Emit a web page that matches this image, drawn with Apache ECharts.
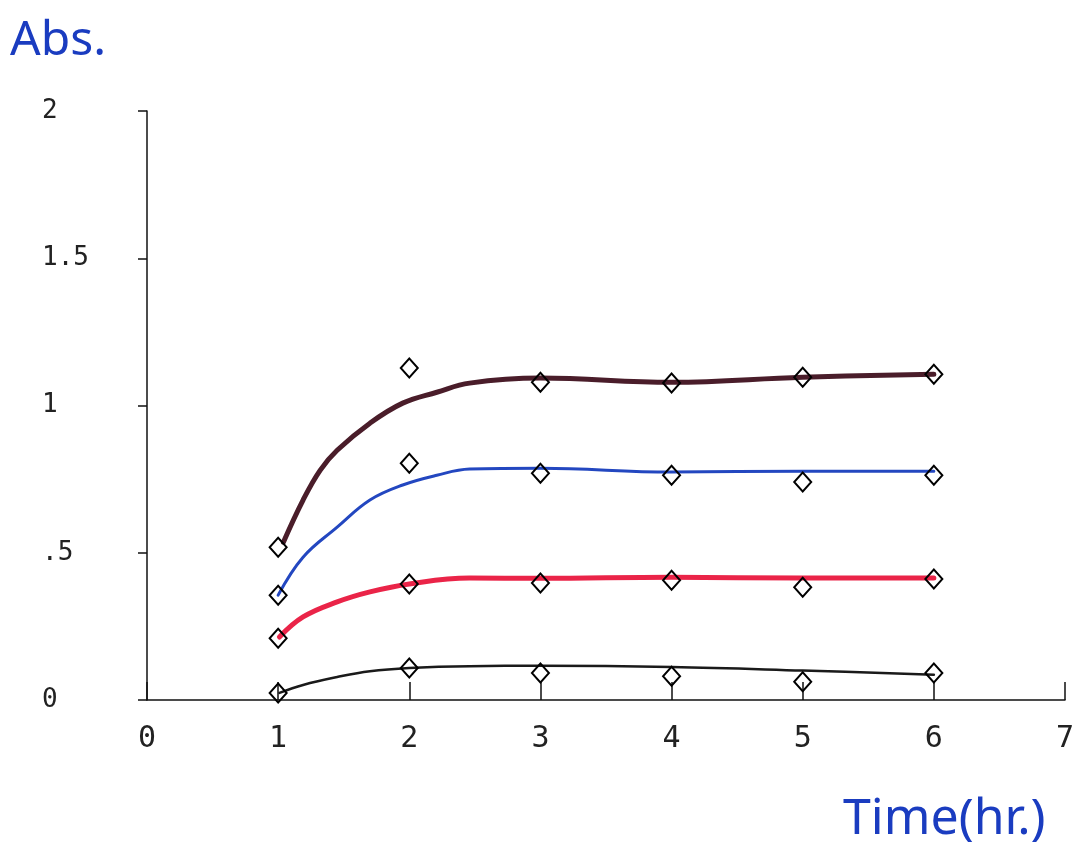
<!DOCTYPE html>
<html><head><meta charset="utf-8">
<script src="https://cdn.jsdelivr.net/npm/echarts@6/dist/echarts.min.js"></script>
<style>html,body{margin:0;padding:0;background:#fff}#c{width:1084px;height:851px}</style>
</head><body><div id="c"></div>
<script>
// Measured points (diamonds)
const times = [1, 2, 3, 4, 5, 6];
const maroonPts = [0.519, 1.127, 1.079, 1.076, 1.096, 1.106];
const bluePts   = [0.356, 0.804, 0.770, 0.763, 0.740, 0.763];
const redPts    = [0.210, 0.394, 0.397, 0.407, 0.383, 0.411];
const blackPts  = [0.024, 0.109, 0.092, 0.081, 0.062, 0.092];

// Hand-drawn fitted curves
const maroonCurveX = [1.04, 1.19, 1.32, 1.45, 1.70, 1.95, 2.21, 2.46, 3.0, 4.0, 5.0, 6.0];
const maroonCurveY = [0.536, 0.679, 0.780, 0.848, 0.940, 1.008, 1.045, 1.076, 1.093, 1.079, 1.096, 1.106];
const blueCurveX = [1.0, 1.19, 1.45, 1.70, 1.95, 2.21, 2.46, 3.0, 4.0, 5.0, 6.0];
const blueCurveY = [0.356, 0.485, 0.587, 0.679, 0.730, 0.763, 0.784, 0.787, 0.774, 0.777, 0.777];
const redCurveX = [1.01, 1.19, 1.45, 1.70, 2.0, 2.46, 3.0, 4.0, 5.0, 6.0];
const redCurveY = [0.214, 0.282, 0.333, 0.367, 0.394, 0.414, 0.413, 0.417, 0.414, 0.414];
const blackCurveX = [1.01, 1.19, 1.45, 1.70, 2.0, 2.46, 3.0, 4.0, 5.0, 6.0];
const blackCurveY = [0.024, 0.051, 0.078, 0.098, 0.109, 0.115, 0.116, 0.112, 0.100, 0.086];

const yTickValues = [0, 0.5, 1, 1.5, 2];
const yTickLabels = ['0', '.5', '1', '1.5', '2'];
const xTickValues = [0, 1, 2, 3, 4, 5, 6, 7];
const xTickLabels = ['0', '1', '2', '3', '4', '5', '6', '7'];
const yTitle = 'Abs.';
const xTitle = 'Time(hr.)';

const zip = (xs, ys) => xs.map((x, i) => [x, ys[i]]);
const curve = (xs, ys, color, width) => ({
  type: 'line', data: zip(xs, ys), smooth: 0.4, showSymbol: false, z: 2,
  lineStyle: { color: color, width: width, cap: 'round', join: 'round', opacity: 1 }, silent: true
});
const marks = (ys) => ({
  type: 'scatter', data: zip(times, ys), symbol: 'diamond', symbolSize: [17, 19], z: 5,
  itemStyle: { color: 'rgba(255,255,255,0)', borderColor: '#000', borderWidth: 2, opacity: 1 }, silent: true
});

const chart = echarts.init(document.getElementById('c'));
chart.setOption({
  backgroundColor: '#ffffff',
  animation: false,
  grid: { left: 147, right: 19, top: 111, bottom: 151 },
  xAxis: {
    type: 'value', min: 0, max: 7, interval: 1,
    axisLine: { lineStyle: { color: '#111', width: 1.5 } },
    axisTick: { inside: true, length: 18, lineStyle: { color: '#111', width: 1.5 } },
    splitLine: { show: false },
    axisLabel: {
      margin: 24, color: '#222', fontFamily: 'DejaVu Sans Mono', fontSize: 30,
      formatter: (v) => xTickLabels[xTickValues.indexOf(v)]
    }
  },
  yAxis: {
    type: 'value', min: 0, max: 2, interval: 0.5,
    axisLine: { lineStyle: { color: '#111', width: 1.5 } },
    axisTick: { inside: false, length: 9, lineStyle: { color: '#111', width: 1.5 } },
    splitLine: { show: false },
    axisLabel: {
      margin: 105, align: 'left', color: '#222', fontFamily: 'DejaVu Sans Mono', fontSize: 26,
      formatter: (v) => yTickLabels[yTickValues.indexOf(v)]
    }
  },
  graphic: [
    { type: 'text', left: 10, top: 17, style: { text: yTitle, fill: '#1a3cc0', font: '48px "Noto Sans"' } },
    { type: 'text', left: 843, top: 795, style: { text: xTitle, fill: '#1a3cc0', font: '50px "Noto Sans"' } }
  ],
  series: [
    curve(maroonCurveX, maroonCurveY, '#4a1d2a', 5),
    curve(blueCurveX, blueCurveY, '#2347c0', 3),
    curve(redCurveX, redCurveY, '#ea2448', 5),
    curve(blackCurveX, blackCurveY, '#1a1a1a', 2.5),
    marks(maroonPts), marks(bluePts), marks(redPts), marks(blackPts)
  ]
});
</script>
</body></html>
